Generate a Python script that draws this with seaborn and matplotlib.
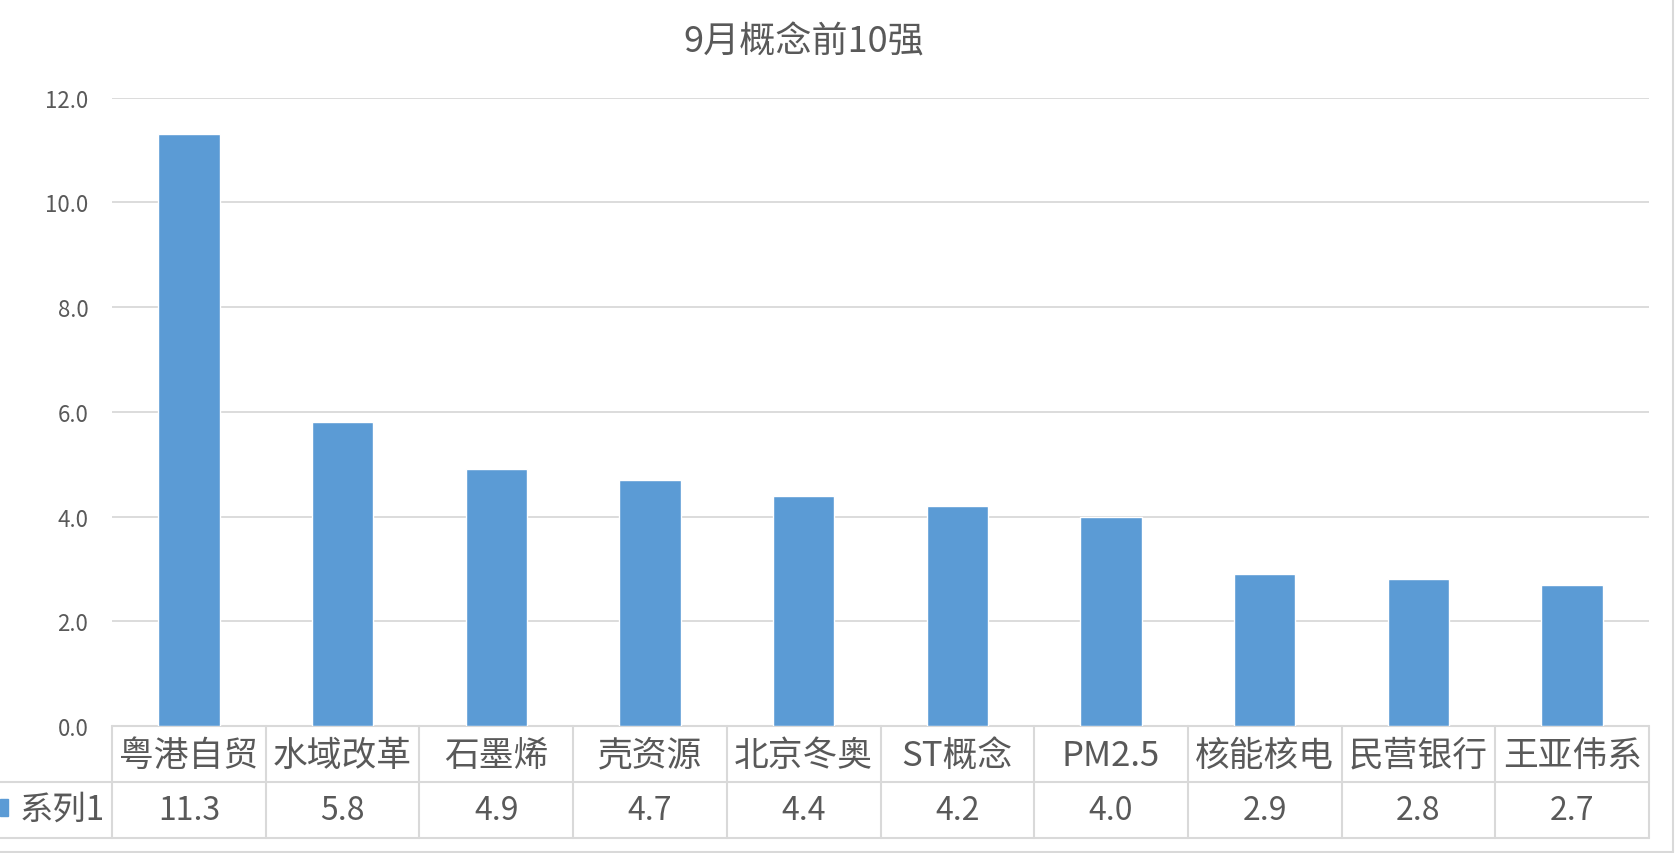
import matplotlib
matplotlib.use("Agg")
import matplotlib.pyplot as plt
import matplotlib.transforms as mtransforms
import seaborn as sns
import pandas as pd

categories = ['粤港自贸', '水域改革', '石墨烯', '壳资源', '北京冬奥',
              'ST概念', 'PM2.5', '核能核电', '民营银行', '王亚伟系']
values = [11.3, 5.8, 4.9, 4.7, 4.4, 4.2, 4.0, 2.9, 2.8, 2.7]
series_name = '系列1'
title = '9月概念前10强'

bar_color = '#5B9BD5'
grid_color = '#D9D9D9'
text_color = '#595959'

sns.set_style('white')
plt.rcParams['font.family'] = ['Noto Sans CJK SC', 'DejaVu Sans']

W, H = 1680, 854
fig = plt.figure(figsize=(W / 100, H / 100), dpi=100)
ax_left, ax_right, ax_top, ax_bottom = 112, 1649, 98.6, 727
ax = fig.add_axes([ax_left / W, 1 - ax_bottom / H,
                   (ax_right - ax_left) / W, (ax_bottom - ax_top) / H])

df = pd.DataFrame({'concept': categories, 'value': values})
sns.barplot(data=df, x='concept', y='value', color=bar_color, width=0.4,
            saturation=1, ax=ax, zorder=3)

ax.set_xlim(-0.5, len(categories) - 0.5)
ax.set_ylim(0, 12)
ax.set_yticks([0, 2, 4, 6, 8, 10, 12])
ax.set_yticklabels([f'{t:.1f}' for t in ax.get_yticks()], color=text_color, fontsize=16)
ax.tick_params(axis='y', length=0, pad=17)
ax.set_xticks([])
ax.set_xlabel('')
ax.set_ylabel('')
for s in ax.spines.values():
    s.set_visible(False)
ax.yaxis.grid(True, color=grid_color, linewidth=1.3, zorder=0)
ax.set_axisbelow(True)

fig.text(804 / W, 1 - 42 / H, title, ha='center', va='center', fontsize=26, color=text_color)

# data table below the plot
row_h = 56
ax_h = ax_bottom - ax_top
r1 = -row_h / ax_h
r2 = -2 * row_h / ax_h
trans = mtransforms.blended_transform_factory(ax.transData, ax.transAxes)
n = len(categories)
x_fig_left = -0.5 - ax_left / ((ax_right - ax_left) / n)
lk = dict(color=grid_color, linewidth=1.5, transform=trans, clip_on=False, zorder=1)
ax.plot([-0.5, n - 0.5], [0, 0], **lk)
ax.plot([x_fig_left, n - 0.5], [r1, r1], **lk)
ax.plot([x_fig_left, n - 0.5], [r2, r2], **lk)
for i in range(n + 1):
    ax.plot([i - 0.5, i - 0.5], [0, r2], **lk)
for i, (c, v) in enumerate(zip(categories, values)):
    ax.text(i, r1 / 2 - 0.002, c, ha='center', va='center', fontsize=25,
            color=text_color, transform=trans, clip_on=False)
    ax.text(i, (r1 + r2) / 2, f'{v:.1f}', ha='center', va='center', fontsize=23,
            color=text_color, transform=trans, clip_on=False)

# legend key + series name
fig.patches.append(plt.Rectangle((0, 1 - 817 / H), 8 / W, 17 / H, color=bar_color,
                                 transform=fig.transFigure, figure=fig))
fig.text(20 / W, 1 - 810 / H, series_name, ha='left', va='center', fontsize=24,
         color=text_color)

# chart area border
fig.add_artist(plt.Line2D([0, 1673 / W], [1 - 853 / H, 1 - 853 / H], color=grid_color,
                          linewidth=1.5, transform=fig.transFigure))
fig.add_artist(plt.Line2D([1673 / W, 1673 / W], [1 - 853 / H, 1], color=grid_color,
                          linewidth=1.5, transform=fig.transFigure))

fig.savefig('out.png', dpi=100)
